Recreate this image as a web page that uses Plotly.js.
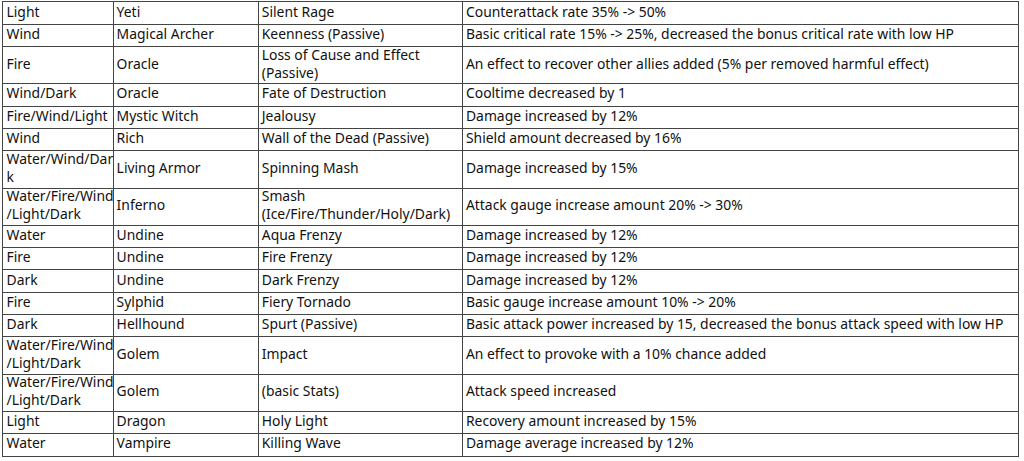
<!DOCTYPE html>
<html>
<head>
<meta charset="utf-8">
<script src="https://cdn.plot.ly/plotly-3.0.1.min.js"></script>
<style>
  html, body { margin: 0; padding: 0; background: #fff; }
  #chart { width: 1024px; height: 461px; }
</style>
</head>
<body>
<div id="chart"></div>
<script>
// Skill balance changes — four plain columns, no header row in the source image.
// Drawn on two linear axes: grid lines are the cell borders, text marks are the cells.

const attributes = [
  "Light", "Wind", "Fire", "Wind/Dark", "Fire/Wind/Light", "Wind",
  "Water/Wind/Dar<br>k", "Water/Fire/Wind<br>/Light/Dark", "Water", "Fire", "Dark",
  "Fire", "Dark", "Water/Fire/Wind<br>/Light/Dark", "Water/Fire/Wind<br>/Light/Dark",
  "Light", "Water",
];
const monsters = [
  "Yeti", "Magical Archer", "Oracle", "Oracle", "Mystic Witch", "Rich",
  "Living Armor", "Inferno", "Undine", "Undine", "Undine",
  "Sylphid", "Hellhound", "Golem", "Golem",
  "Dragon", "Vampire",
];
const skills = [
  "Silent Rage", "Keenness (Passive)", "Loss of Cause and Effect<br>(Passive)",
  "Fate of Destruction", "Jealousy", "Wall of the Dead (Passive)",
  "Spinning Mash", "Smash<br>(Ice/Fire/Thunder/Holy/Dark)", "Aqua Frenzy", "Fire Frenzy",
  "Dark Frenzy", "Fiery Tornado", "Spurt (Passive)", "Impact", "(basic Stats)",
  "Holy Light", "Killing Wave",
];
const changes = [
  "Counterattack rate 35% -> 50%",
  "Basic critical rate 15% -> 25%, decreased the bonus critical rate with low HP",
  "An effect to recover other allies added (5% per removed harmful effect)",
  "Cooltime decreased by 1",
  "Damage increased by 12%",
  "Shield amount decreased by 16%",
  "Damage increased by 15%",
  "Attack gauge increase amount 20% -> 30%",
  "Damage increased by 12%",
  "Damage increased by 12%",
  "Damage increased by 12%",
  "Basic gauge increase amount 10% -> 20%",
  "Basic attack power increased by 15, decreased the bonus attack speed with low HP",
  "An effect to provoke with a 10% chance added",
  "Attack speed increased",
  "Recovery amount increased by 15%",
  "Damage average increased by 12%",
];

const columns = [attributes, monsters, skills, changes];

// layout: column widths and per-line row heights in px
const COL_W = [110, 145, 204, 555];
const ROW_1LINE = 22.3;
const ROW_2LINE = 37.3;
const PAD = 3.5;
const LINE = "#444";
const FONT = { family: "Noto Sans, Open Sans, sans-serif", size: 13.9, color: "#111" };

const colEdges = [0];
COL_W.forEach((w) => colEdges.push(colEdges[colEdges.length - 1] + w));

const nRows = attributes.length;
const rowEdges = [0];
for (let r = 0; r < nRows; r++) {
  const lines = Math.max(...columns.map((c) => c[r].split("<br>").length));
  rowEdges.push(rowEdges[r] + (lines > 1 ? ROW_2LINE : ROW_1LINE));
}
const totalW = colEdges[colEdges.length - 1];
const totalH = rowEdges[nRows];

const traces = columns.map((col, c) => ({
  type: "scatter",
  mode: "text",
  x: col.map(() => colEdges[c] + PAD),
  y: col.map((_, r) => (rowEdges[r] + rowEdges[r + 1]) / 2),
  text: col,
  textposition: "middle right",
  textfont: FONT,
  hoverinfo: "skip",
  cliponaxis: false,
  showlegend: false,
}));

const axisBase = {
  showticklabels: false,
  ticks: "",
  zeroline: false,
  showgrid: true,
  gridcolor: LINE,
  gridwidth: 1,
  showline: true,
  mirror: true,
  linecolor: LINE,
  linewidth: 1,
  fixedrange: true,
};

const layout = {
  width: 1024,
  height: 461,
  margin: { l: 3, r: 6, t: 2, b: 5 },
  paper_bgcolor: "#fff",
  plot_bgcolor: "#fff",
  xaxis: { ...axisBase, range: [0, totalW], tickmode: "array", tickvals: colEdges },
  yaxis: { ...axisBase, range: [totalH, 0], tickmode: "array", tickvals: rowEdges },
};

Plotly.newPlot("chart", traces, layout, { displayModeBar: false, staticPlot: true });
</script>
</body>
</html>
